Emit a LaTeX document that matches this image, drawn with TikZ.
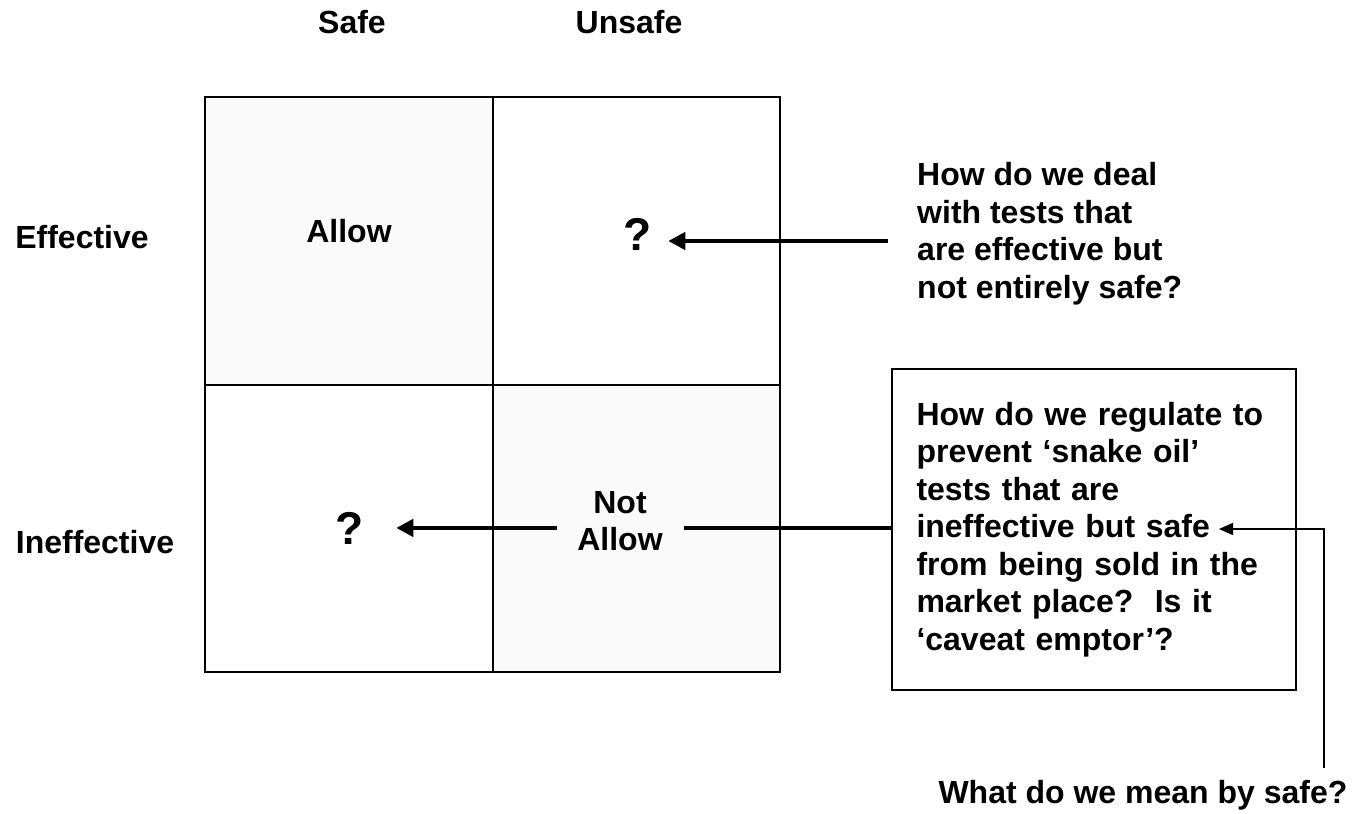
\documentclass[tikz,border=0pt]{standalone}
\usepackage{fontspec}
\setmainfont{Liberation Sans}
\usetikzlibrary{arrows.meta}
\definecolor{MXshade}{HTML}{FAFAFA}
\definecolor{MXink}{HTML}{000000}
\newcommand{\mxfont}{\fontsize{32}{37.5}\selectfont\bfseries}
\newcommand{\mxqfont}{\fontsize{46}{52}\selectfont\bfseries}

\begin{document}
\begin{tikzpicture}[
  x=1pt,y=-1pt,
  line cap=butt,line join=miter,
  word/.style={font=\mxfont,text=MXink,inner sep=0pt},
  qmark/.style={font=\mxqfont,text=MXink,inner sep=0pt},
  grid/.style={draw=MXink,line width=2.2pt},
  bigline/.style={draw=MXink,line width=4.2pt},
  bigarrow/.style={bigline,-{Triangle[length=17pt,width=17pt]}},
  thinarrow/.style={draw=MXink,line width=1.5pt,-{Triangle[length=14pt,width=12pt]}},
  textbox/.style={draw=MXink,line width=2.2pt,font=\mxfont,align=left,
    text width=355pt,inner xsep=24.5pt,inner ysep=0pt}
]

% page in px of the reference, y running down
\useasboundingbox (0,0) rectangle (1358,814);

% the 2x2 grid
\fill[MXshade] (205,97) rectangle (493,385);
\fill[MXshade] (493,385) rectangle (780,672);
\draw[grid] (205,97) rectangle (780,672);
\draw[grid] (493,97) -- (493,672);
\draw[grid] (205,385) -- (780,385);

\node[word,anchor=base] (safe) at (352,33) {Safe};
\node[word,anchor=base] (unsafe) at (629,33) {Unsafe};
\node[word,anchor=base] (effective) at (82,248) {Effective};
\node[word,anchor=base] (ineffective) at (95,553) {Ineffective};

\node[word,anchor=base] (allow) at (349,242) {Allow};
\node[qmark,anchor=base] (qup) at (638,250) {?};
\node[qmark,anchor=base] (qlow) at (350,544) {?};
\node[word,align=center] (notallow) at (620,521) {Not\\Allow};

\node[word,align=left,anchor=north west] (qeff) at (917,162.5)
  {How do we deal\\with tests that\\are effective but\\not entirely safe?};
\node[textbox,minimum height=321pt] (regbox) at (1094,529.5)
  {How do we regulate to\\prevent ‘snake oil’\\tests that are\\ineffective but safe\\from being sold in the\\market place?\ \ Is it\\‘caveat emptor’?};
\node[word,anchor=base] (safeq) at (1143,803) {What do we mean by safe?};

\coordinate (effstart) at (888,241);
\coordinate (safetip) at (1219,529);

\draw[bigarrow,shorten >=16pt] (effstart) -- (qup.east |- effstart);
\draw[bigline,shorten >=21pt] (regbox.west |- qlow) -- (notallow.east |- qlow);
\draw[bigarrow,shorten <=20pt,shorten >=32pt] (notallow.west |- qlow) -- (qlow.east);
\draw[thinarrow,shorten <=12pt] (safeq.north -| 1324,0) |- (safetip);

\end{tikzpicture}
\end{document}
